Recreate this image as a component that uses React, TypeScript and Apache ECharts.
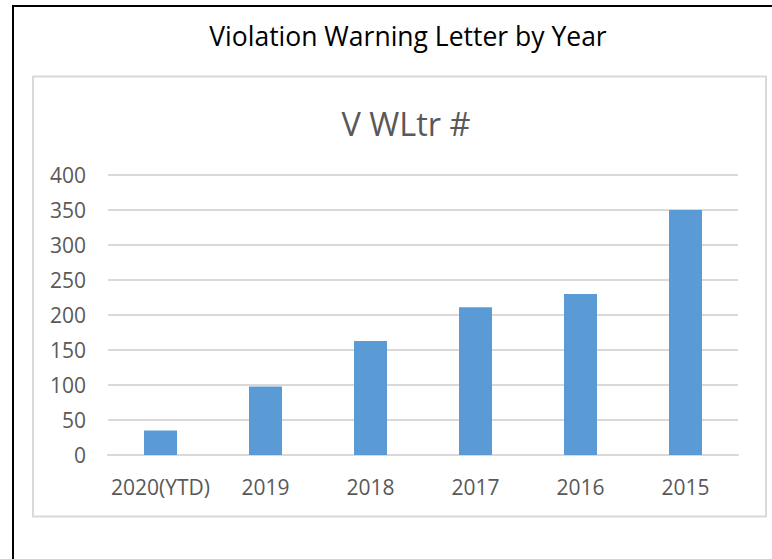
import React, { useEffect, useRef } from "react";
import * as echarts from "echarts";

const categories = ["2020(YTD)", "2019", "2018", "2017", "2016", "2015"];
const letterCounts = [35, 98, 163, 211, 230, 350];
const mainTitle = "Violation Warning Letter by Year";
const chartTitle = "V WLtr #";

export default function App() {
  const ref = useRef<HTMLDivElement>(null);
  useEffect(() => {
    document.body.style.margin = "0";
    const chart = echarts.init(ref.current!, null, { renderer: "svg" });
    const font = "'Open Sans', sans-serif";
    chart.setOption({
      animation: false,
      backgroundColor: "#ffffff",
      textStyle: { fontFamily: font },
      title: [
        {
          text: mainTitle,
          left: 403,
          top: 17,
          textAlign: "center",
          textStyle: { fontFamily: font, fontSize: 26.5, fontWeight: "normal", color: "#000000" },
        },
        {
          text: chartTitle,
          left: 401,
          top: 102,
          textAlign: "center",
          textStyle: { fontFamily: font, fontSize: 32.5, fontWeight: "normal", color: "#595959" },
        },
      ],
      graphic: [
        {
          type: "rect",
          silent: true,
          shape: { x: 13, y: 6, width: 900, height: 700 },
          style: { fill: "none", stroke: "#000000", lineWidth: 2 },
        },
        {
          type: "rect",
          silent: true,
          shape: { x: 33, y: 76.5, width: 733, height: 440 },
          style: { fill: "none", stroke: "#d9d9d9", lineWidth: 2 },
        },
      ],
      grid: { left: 108, right: 34, top: 175, bottom: 104, containLabel: false },
      xAxis: {
        type: "category",
        data: categories,
        axisTick: { show: false },
        axisLine: { show: true, lineStyle: { color: "#d9d9d9", width: 2 } },
        axisLabel: { color: "#595959", fontSize: 21, fontFamily: font, margin: 21, lineHeight: 21, interval: 0 },
      },
      yAxis: {
        type: "value",
        min: 0,
        max: 400,
        interval: 50,
        axisLine: { show: false },
        axisTick: { show: false },
        splitLine: { lineStyle: { color: "#d9d9d9", width: 2 } },
        axisLabel: { color: "#595959", fontSize: 21, fontFamily: font, margin: 22 },
      },
      series: [
        {
          type: "bar",
          data: letterCounts,
          barWidth: 33,
          itemStyle: { color: "#5b9bd5" },
        },
      ],
    });
    return () => chart.dispose();
  }, []);
  return (
    <div
      ref={ref}
      style={{ position: "absolute", left: 0, top: 0, width: 772, height: 559 }}
    />
  );
}
